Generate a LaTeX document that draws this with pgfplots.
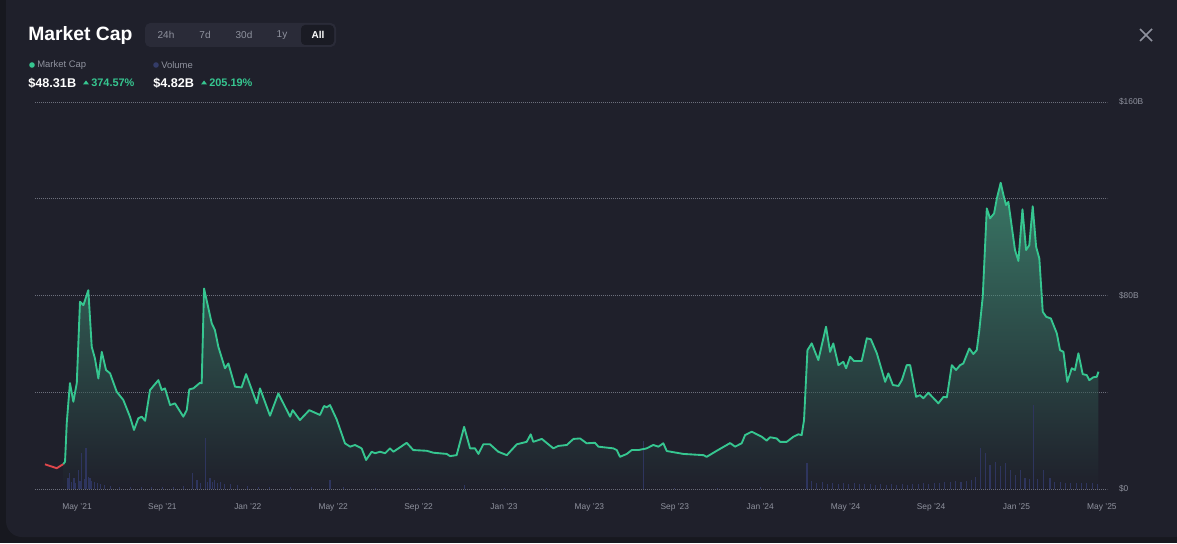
\documentclass[border=0pt]{standalone}
\usepackage{fontspec}
\setmainfont{Liberation Sans}
\usepackage{pgfplots}
\pgfplotsset{compat=1.18}
\definecolor{bg}{HTML}{1F202B}
\definecolor{outerbg}{HTML}{17181F}
\definecolor{mcgreen}{HTML}{36C690}
\definecolor{mcred}{HTML}{E0474C}
\definecolor{volc}{HTML}{2E355E}
\definecolor{voldot}{HTML}{343C68}
\definecolor{gridc}{HTML}{7A7D8A}
\definecolor{tickc}{HTML}{8F929E}
\definecolor{btnbg}{HTML}{2A2B38}
\definecolor{btnsel}{HTML}{1A1B24}

% market cap, x = months since Jan 2021, y = billions USD
\pgfplotstableread{
m y
2.50 10.2
3.05 8.6
3.36 10.3
}\mcred
\pgfplotstableread{
m y
3.36 10.3
3.44 11.3
3.52 27.3
3.67 43.8
3.83 36.1
3.99 43.8
4.14 77.4
4.30 76.0
4.53 82.2
4.69 58.8
4.84 54.0
5.00 45.7
5.16 56.7
5.36 49.2
5.55 47.8
5.86 40.2
6.17 36.8
6.48 29.9
6.67 24.4
6.87 29.2
7.03 29.9
7.19 28.2
7.42 40.9
7.81 45.0
7.97 40.9
8.12 41.6
8.36 34.7
8.59 35.4
8.98 29.9
9.14 32.6
9.26 41.2
9.45 41.6
9.76 43.9
9.84 43.7
9.95 82.9
10.31 68.5
10.46 65.7
10.62 58.8
10.93 49.9
11.09 51.9
11.40 42.3
11.71 42.0
11.92 47.5
12.42 35.4
12.57 41.6
13.04 30.3
13.43 39.5
13.98 29.9
14.10 32.6
14.44 28.5
14.88 32.6
15.38 30.6
15.57 34.3
15.70 33.8
15.85 34.7
16.16 28.8
16.55 18.9
16.79 17.5
17.02 18.2
17.33 16.8
17.54 12.0
17.80 15.4
17.96 14.8
18.19 15.4
18.43 14.8
18.66 16.8
18.82 15.4
19.44 19.1
19.75 16.1
20.38 15.8
20.69 15.0
21.32 14.5
21.47 13.6
21.78 14.0
22.13 25.7
22.41 16.8
22.64 16.8
22.80 14.5
23.03 18.5
23.34 18.5
23.73 15.4
24.13 14.0
24.60 18.5
25.06 19.5
25.25 22.6
25.37 19.5
25.77 20.7
26.31 16.8
26.54 17.8
26.94 18.2
27.25 20.7
27.56 20.9
27.87 18.9
28.26 19.1
28.42 17.5
29.12 16.8
29.28 16.1
29.43 13.3
29.75 14.5
29.98 16.1
30.29 16.1
30.68 16.8
30.99 18.2
31.23 17.5
31.46 18.9
31.62 15.7
32.40 14.5
33.34 14.0
33.49 13.3
33.96 15.8
34.59 19.0
34.82 17.5
35.13 18.9
35.29 22.3
35.60 23.7
36.07 21.6
36.30 20.0
36.46 21.4
36.77 20.9
36.93 19.5
37.24 19.5
37.55 21.6
37.78 22.6
37.94 22.3
38.05 28.5
38.21 57.4
38.41 60.2
38.72 53.3
39.08 67.1
39.27 56.7
39.42 60.2
39.66 51.2
39.89 52.6
40.02 49.9
40.21 54.7
40.39 52.9
40.75 52.9
40.99 62.3
41.18 61.9
41.46 56.1
41.85 44.3
42.00 47.8
42.21 43.0
42.47 42.6
42.63 45.0
42.86 51.2
43.02 51.2
43.30 38.1
43.48 38.8
43.64 37.5
43.87 39.8
44.27 36.1
44.34 35.4
44.58 38.1
44.74 37.9
44.97 51.2
45.17 49.2
45.36 51.2
45.51 51.9
45.79 58.1
45.98 55.8
46.14 57.4
46.26 65.7
46.42 79.5
46.61 116.0
46.76 111.9
46.95 113.9
47.08 120.1
47.26 126.6
47.39 121.5
47.51 117.4
47.62 118.7
47.78 108.4
47.93 98.8
48.09 94.3
48.28 115.6
48.45 98.8
48.60 100.8
48.76 116.9
48.92 100.1
49.07 95.3
49.23 73.3
49.39 71.2
49.61 70.5
49.89 64.3
50.04 57.4
50.20 56.7
50.38 44.3
50.59 49.9
50.74 49.2
50.90 56.1
51.10 47.5
51.29 47.1
51.41 45.0
51.60 46.2
51.76 46.4
51.84 48.5
}\mcgr
% volume, billions USD
\pgfplotstableread{
m v
3.58 4.5
3.67 6.6
3.76 3.0
3.86 4.5
3.95 2.5
4.05 7.9
4.14 3.5
4.23 14.9
4.33 4.0
4.42 16.9
4.52 5.0
4.61 4.5
4.70 3.5
4.80 2.9
4.95 2.5
5.08 2.0
5.30 1.5
5.55 1.2
6.00 1.0
6.50 1.0
7.00 1.0
7.50 0.8
8.00 1.0
8.50 0.8
9.00 1.2
9.39 6.6
9.62 3.7
9.80 2.5
10.00 21.0
10.12 3.0
10.23 4.5
10.35 3.0
10.46 3.7
10.58 2.5
10.70 2.9
10.90 2.2
11.17 2.0
11.50 1.5
12.00 1.2
12.50 1.0
13.00 1.0
14.00 0.8
15.00 0.8
15.85 3.7
16.50 0.8
18.00 0.6
20.00 0.6
22.13 1.5
24.00 0.6
26.00 0.6
28.00 0.6
30.51 20.0
32.00 0.6
34.00 0.6
36.00 0.8
38.19 10.7
38.40 3.5
38.65 2.5
38.90 2.8
39.15 2.2
39.40 2.6
39.65 2.2
39.90 2.4
40.15 2.0
40.40 2.3
40.65 2.0
40.90 2.2
41.15 2.0
41.40 1.8
41.65 2.0
41.90 1.8
42.15 2.0
42.40 1.8
42.65 2.0
42.90 1.8
43.15 2.2
43.40 2.0
43.65 2.4
43.90 2.2
44.15 2.6
44.40 2.4
44.65 2.8
44.90 3.0
45.15 3.2
45.40 3.0
45.65 3.5
45.90 3.8
46.10 5.0
46.30 17.0
46.54 15.0
46.76 10.0
47.00 11.0
47.23 9.5
47.47 10.7
47.70 7.9
47.94 5.8
48.17 7.9
48.40 4.5
48.60 4.0
48.78 34.7
49.00 4.0
49.25 7.9
49.57 4.5
49.80 3.0
50.05 2.8
50.30 2.5
50.55 2.6
50.80 2.4
51.05 2.5
51.30 2.3
51.55 2.4
51.80 2.2
}\vol

\begin{document}
\begin{tikzpicture}[x=0.75pt,y=0.75pt]
\useasboundingbox (0,0) rectangle (1177,543);
\clip (0,0) rectangle (1177,543);
% page and panel
\fill[outerbg] (0,0) rectangle (1177,543);
\fill[bg, rounded corners=12] (6,6) rectangle (1190,560);

% header
\node[anchor=west, inner sep=0, text=white, font=\fontsize{14.5}{16}\selectfont\bfseries] at (28,507) {Market Cap};
\fill[btnbg, rounded corners=4] (145,496) rectangle (336,520);
\fill[btnsel, rounded corners=3] (301,498) rectangle (334,518);
\begin{scope}[every node/.style={inner sep=0, font=\fontsize{7.5}{9}\selectfont, text=tickc}]
\node at (166,508) {24h};
\node at (205,508) {7d};
\node at (244,508) {30d};
\node at (282,508) {1y};
\node[text=white, font=\fontsize{7.5}{9}\selectfont\bfseries] at (318,508) {All};
\end{scope}
\draw[tickc, line width=1.1pt] (1140,502) -- (1152,514) (1140,514) -- (1152,502);

% legend
\fill[mcgreen] (32,478) circle (2.8);
\node[anchor=west, inner sep=0, text=tickc, font=\fontsize{7.1}{8}\selectfont] at (37,478) {Market Cap};
\fill[voldot] (156,478) circle (2.8);
\node[anchor=west, inner sep=0, text=tickc, font=\fontsize{7.1}{8}\selectfont] at (161,478) {Volume};
\node[anchor=west, inner sep=0, text=white, font=\fontsize{9.5}{11}\selectfont\bfseries] at (28,460) {\$48.31B};
\fill[mcgreen] (83,458.5) -- (89,458.5) -- (86,462.5) -- cycle;
\node[anchor=west, inner sep=0, text=mcgreen, font=\fontsize{8.2}{10}\selectfont\bfseries] at (91,460) {374.57\%};
\node[anchor=west, inner sep=0, text=white, font=\fontsize{9.5}{11}\selectfont\bfseries] at (153,460) {\$4.82B};
\fill[mcgreen] (201,458.5) -- (207,458.5) -- (204,462.5) -- cycle;
\node[anchor=west, inner sep=0, text=mcgreen, font=\fontsize{8.2}{10}\selectfont\bfseries] at (209,460) {205.19\%};

\begin{axis}[
  at={(26.25pt,40.5pt)}, anchor=south west,
  width=804pt, height=290.25pt, scale only axis,
  xmin=2.033, xmax=52.24, ymin=0, ymax=160,
  axis line style={draw=none}, tick style={draw=none},
  xtick={4,8,...,52},
  xticklabels={May '21,Sep '21,Jan '22,May '22,Sep '22,Jan '23,May '23,Sep '23,Jan '24,May '24,Sep '24,Jan '25,May '25},
  ytick={0,40,80,120,160},
  yticklabels={\$0,,\$80B,,\$160B},
  yticklabel pos=right,
  ymajorgrids,
  grid style={color=gridc!85!bg, line width=0.6pt, dash pattern=on 0.6pt off 0.9pt},
  ticklabel style={font=\fontsize{6.3}{7}\selectfont, text=tickc},
  xticklabel style={yshift=-7.5pt},
  yticklabel style={xshift=5.5pt},
  clip=false,
]
\addplot[draw=none, fill opacity=0.5, top color=mcgreen!85!white, bottom color=bg] table[x=m, y=y] {\mcgr} \closedcycle;
\addplot[ycomb, volc, line width=0.8pt, mark=none] table[x=m, y=v] {\vol};
\addplot[mcred, line width=1.4pt, line join=round] table[x=m, y=y] {\mcred};
\addplot[mcgreen, line width=1.4pt, line join=round] table[x=m, y=y] {\mcgr};
\end{axis}
\end{tikzpicture}
\end{document}
